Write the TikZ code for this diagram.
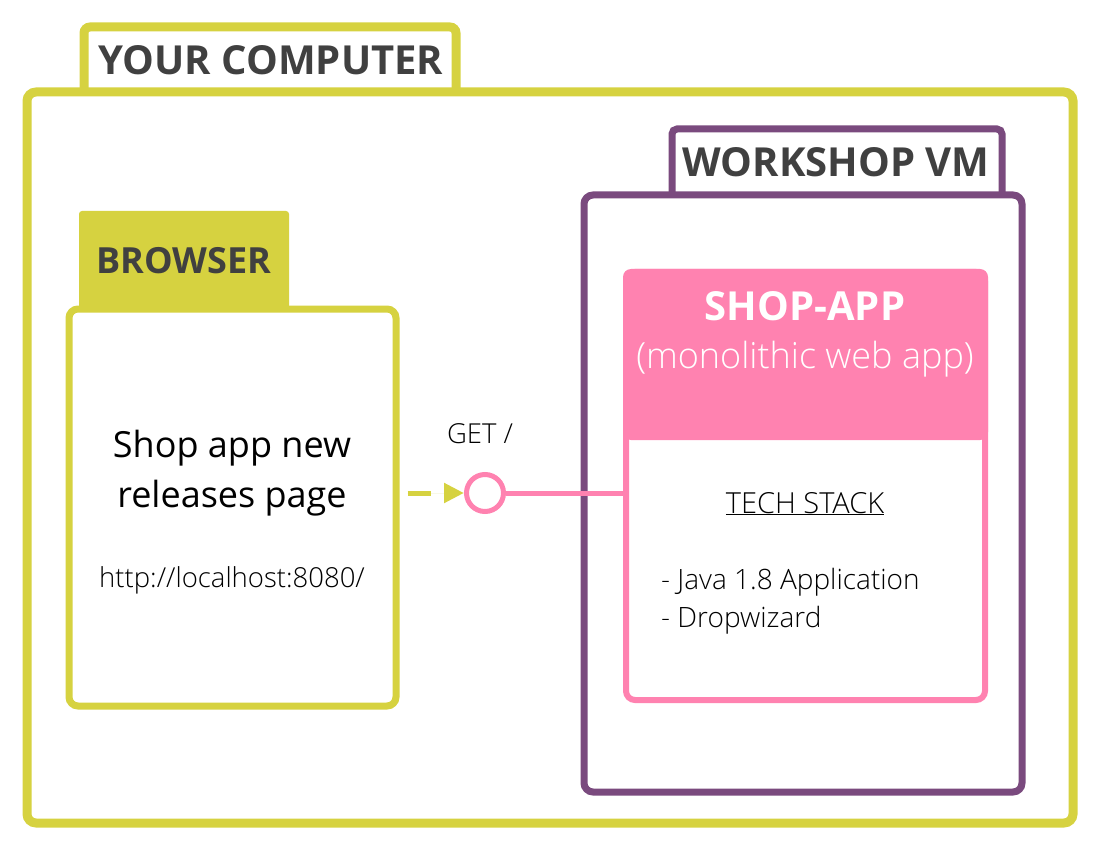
\documentclass[tikz,border=0pt]{standalone}
\usepackage{fontspec}
\setmainfont{Open Sans}
\newfontfamily\oslight{Open Sans Light}
\usetikzlibrary{arrows.meta}
\definecolor{olive}{HTML}{D6D240}
\definecolor{vmpurple}{HTML}{7A4A7E}
\definecolor{apppink}{HTML}{FF82B0}
\definecolor{darktext}{HTML}{404040}
\tikzset{
  boxline/.style={rounded corners=9pt, fill=white, inner sep=0pt},
  titlefont/.style={font=\bfseries\fontsize{#1}{#1}\selectfont, text=darktext, inner sep=0pt, anchor=base},
  lightfont/.style={font=\oslight\fontsize{#1}{#1}\selectfont, text=black, inner sep=0pt},
}
\begin{document}
\begin{tikzpicture}[x=1pt,y=-1pt]
\useasboundingbox (0,0) rectangle (1100,850);
% your computer
\draw[draw=olive, line width=9pt, rounded corners=6pt, fill=white] (84,96) -- (84,27) -- (456,27) -- (456,96);
\node[boxline, draw=olive, line width=9pt, minimum width=1046pt, minimum height=731pt] (computer) at (550,457.5) {};
\node[titlefont=40] (computerlabel) at (271,75) {YOUR COMPUTER};
% workshop vm
\draw[draw=vmpurple, line width=7pt, rounded corners=5pt, fill=white] (672,199) -- (672,129) -- (1002,129) -- (1002,199);
\node[boxline, draw=vmpurple, line width=7pt, minimum width=438pt, minimum height=597pt] (vm) at (803,493.5) {};
\node[titlefont=40] (vmlabel) at (836,177) {WORKSHOP VM};
% browser
\fill[olive, rounded corners=3pt] (79,211) -- (289,211) -- (289,312) -- (79,312) -- cycle;
\node[titlefont=36] (browserlabel) at (184,273) {BROWSER};
\node[boxline, draw=olive, line width=7pt, minimum width=327pt, minimum height=397pt] (browser) at (232.5,507.5) {};
\node[font=\fontsize{36}{50}\selectfont, align=center, inner sep=0pt, anchor=base] (pagetext) at (232,507) {Shop app new\\releases page};
\node[lightfont=27.5, anchor=base] (url) at (232,587) {http://localhost:8080/};
% shop app
\node[boxline, draw=apppink, line width=6pt, minimum width=359pt, minimum height=428pt] (shop) at (805.5,486) {};
\fill[apppink, rounded corners=8pt] (623,269) rectangle (988,440);
\node[font=\bfseries\fontsize{40}{40}\selectfont, text=white, inner sep=0pt, anchor=base] (shoptitle) at (805,320) {SHOP-APP};
\node[lightfont=36, text=white, anchor=base] (shopsub) at (805,368) {(monolithic web app)};
\node[lightfont=29, anchor=base] (techstack) at (805,513) {\underline{TECH STACK}};
\node[lightfont=28, anchor=base west] (java) at (661,589) {- Java 1.8 Application};
\node[lightfont=28, anchor=base west] (dropwizard) at (661,627) {- Dropwizard};
% interface
\node[circle, draw=apppink, line width=5pt, fill=white, minimum size=37pt, inner sep=0pt] (iface) at (485,493) {};
\node[lightfont=27.5, anchor=base] (getlabel) at (480,443) {GET /};
\draw[draw=apppink, line width=5pt] (iface.east) -- (iface.east -| shop.west);
\draw[draw=olive, fill=olive, line width=5pt, dash pattern=on 23pt off 15pt, shorten <=8pt, -{Triangle[length=20pt, width=19pt]}] (browser.east |- iface) -- (iface.west);
\end{tikzpicture}
\end{document}
